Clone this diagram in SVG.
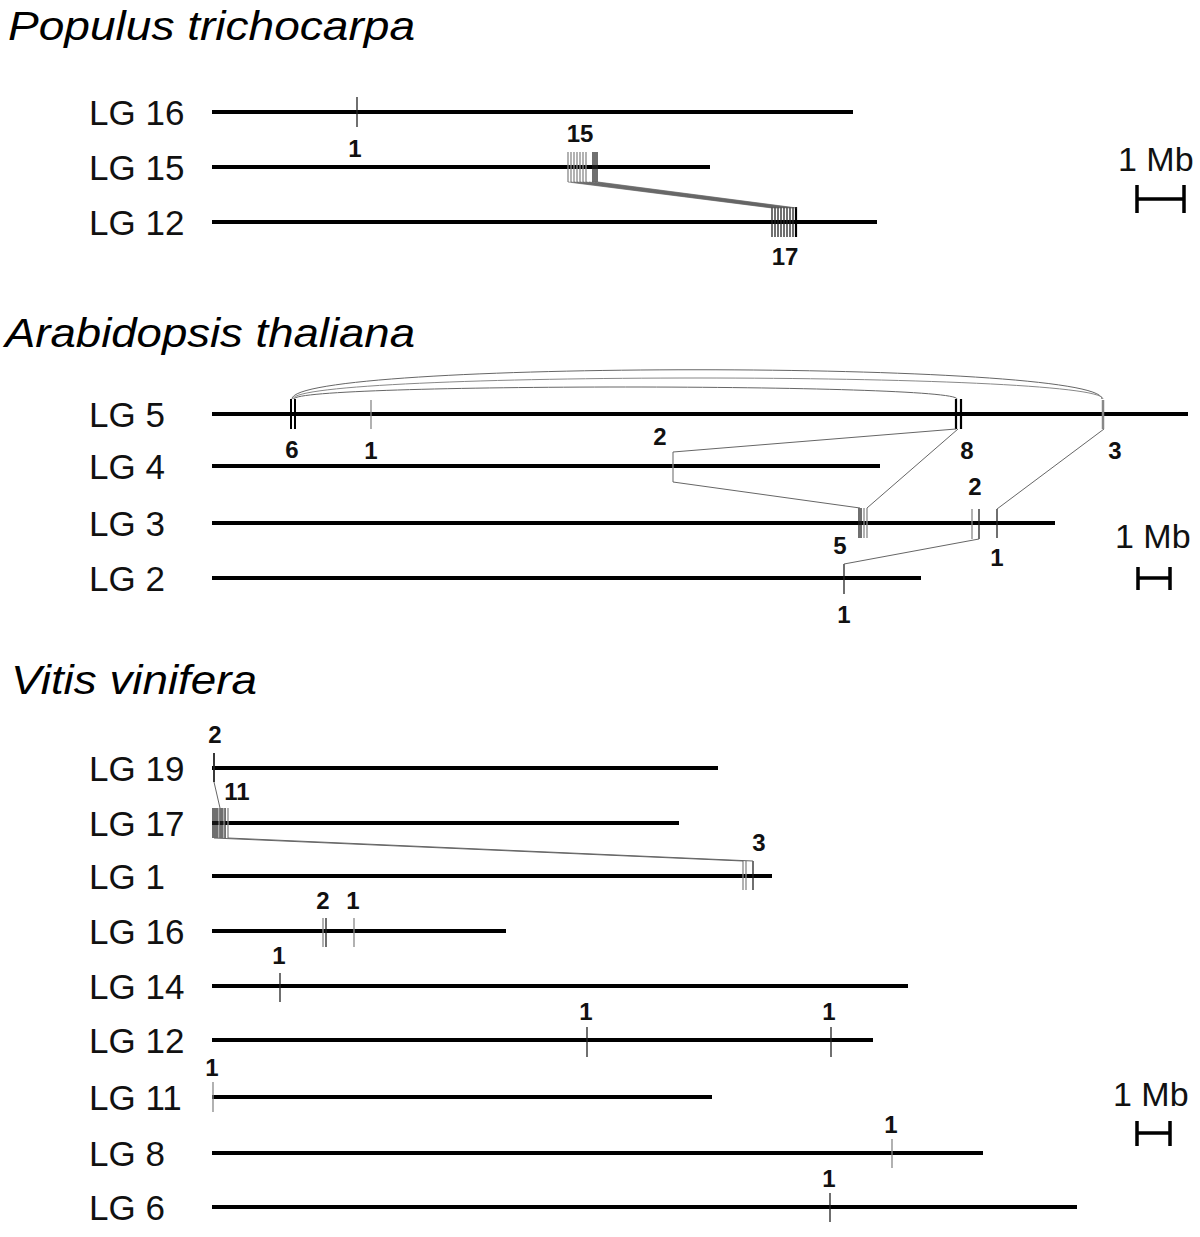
<svg xmlns="http://www.w3.org/2000/svg" width="1200" height="1237" viewBox="0 0 1200 1237">
<style>
.title{font-family:"Liberation Sans",Arial,sans-serif;font-style:italic;font-size:41px;fill:#000}
.lg{font-family:"Liberation Sans",Arial,sans-serif;font-size:35px;fill:#111}
.num{font-family:"Liberation Sans",Arial,sans-serif;font-weight:bold;font-size:24px;fill:#111;text-anchor:middle}
.mb{font-family:"Liberation Sans",Arial,sans-serif;font-size:34px;fill:#111}
.chr{stroke:#000;stroke-width:4;fill:none}
.tk{stroke:#222;stroke-width:1.3;fill:none}
.tg{stroke:#888;stroke-width:1.3;fill:none}
.con{stroke:#666;stroke-width:1;fill:none}
.sb{stroke:#000;stroke-width:3.5;fill:none}
</style>
<rect width="1200" height="1237" fill="#fff"/>

<!-- ===== Populus ===== -->
<g id="title-populus"><text class="title" x="8" y="40" textLength="407" lengthAdjust="spacingAndGlyphs">Populus trichocarpa</text></g>
<g id="pt-lg16">
 <text class="lg" x="89" y="125">LG 16</text>
 <line class="chr" x1="212" y1="112" x2="853" y2="112"/>
 <line class="tk" x1="357" y1="97" x2="357" y2="127"/>
 <text class="num" x="355" y="157">1</text>
</g>
<g id="pt-lg15">
 <text class="lg" x="89" y="180">LG 15</text>
 <line class="chr" x1="212" y1="167" x2="710" y2="167"/>
 <g class="tg"><line x1="568" y1="152" x2="568" y2="182"/><line x1="571" y1="152" x2="571" y2="182"/><line x1="574" y1="152" x2="574" y2="182"/><line x1="577" y1="152" x2="577" y2="182"/><line x1="580" y1="152" x2="580" y2="182"/><line x1="583" y1="152" x2="583" y2="182"/><line x1="586" y1="152" x2="586" y2="182"/></g>
 <g class="tk"><line x1="593" y1="152" x2="593" y2="182"/><line x1="595" y1="152" x2="595" y2="182"/><line x1="597" y1="152" x2="597" y2="182"/></g>
 <text class="num" x="580" y="142">15</text>
</g>
<g id="pt-lg12">
 <text class="lg" x="89" y="235">LG 12</text>
 <line class="chr" x1="212" y1="222" x2="877" y2="222"/>
 <g class="tk"><line x1="772" y1="207" x2="772" y2="237"/><line x1="775" y1="207" x2="775" y2="237"/><line x1="778" y1="207" x2="778" y2="237"/><line x1="781" y1="207" x2="781" y2="237"/><line x1="784" y1="207" x2="784" y2="237"/><line x1="787" y1="207" x2="787" y2="237"/><line x1="790" y1="207" x2="790" y2="237"/><line x1="793" y1="207" x2="793" y2="237"/></g>
 <line x1="796" y1="207" x2="796" y2="237" stroke="#000" stroke-width="2.2"/>
 <text class="num" x="785" y="265">17</text>
</g>
<g id="pt-scale">
 <text class="mb" x="1118" y="171">1 Mb</text>
 <path class="sb" d="M1137 185V213M1137 199H1184M1184 185V213"/>
</g>

<!-- ===== Arabidopsis ===== -->
<g id="title-arabidopsis"><text class="title" x="5" y="347" textLength="410" lengthAdjust="spacingAndGlyphs">Arabidopsis thaliana</text></g>
<g id="at-lg5">
 <text class="lg" x="89" y="427">LG 5</text>
 <line class="chr" x1="212" y1="414" x2="1188" y2="414"/>
 <path d="M291 399V429M295 399V429" stroke="#000" stroke-width="2"/>
 <line class="tg" x1="371" y1="400" x2="371" y2="429"/>
 <path d="M956 399V429M961 399V429" stroke="#000" stroke-width="2.2"/>
 <line x1="1103" y1="400" x2="1103" y2="429" stroke="#888" stroke-width="2.5"/>
 <text class="num" x="292" y="458">6</text>
 <text class="num" x="371" y="459">1</text>
 <text class="num" x="967" y="459">8</text>
 <text class="num" x="1115" y="459">3</text>
</g>
<g id="at-lg4">
 <text class="lg" x="89" y="479">LG 4</text>
 <line class="chr" x1="212" y1="466" x2="880" y2="466"/>
 <line class="tg" x1="673" y1="452" x2="673" y2="482"/>
 <text class="num" x="660" y="445">2</text>
</g>
<g id="at-lg3">
 <text class="lg" x="89" y="536">LG 3</text>
 <line class="chr" x1="212" y1="523" x2="1055" y2="523"/>
 <g class="tk"><line x1="859" y1="508" x2="859" y2="538"/><line x1="861" y1="508" x2="861" y2="538"/></g>
 <g class="tg"><line x1="864" y1="508" x2="864" y2="538"/><line x1="867" y1="508" x2="867" y2="538"/></g>
 <line class="tg" x1="972" y1="509" x2="972" y2="539"/>
 <line class="tk" x1="979" y1="509" x2="979" y2="539"/>
 <line class="tk" x1="997" y1="509" x2="997" y2="538"/>
 <text class="num" x="840" y="554">5</text>
 <text class="num" x="975" y="495">2</text>
 <text class="num" x="997" y="566">1</text>
</g>
<g id="at-lg2">
 <text class="lg" x="89" y="591">LG 2</text>
 <line class="chr" x1="212" y1="578" x2="921" y2="578"/>
 <line class="tk" x1="844" y1="564" x2="844" y2="594"/>
 <text class="num" x="844" y="623">1</text>
</g>
<g id="at-scale">
 <text class="mb" x="1115" y="548">1 Mb</text>
 <path class="sb" d="M1138 567V590M1138 578H1170M1170 567V590"/>
</g>

<!-- ===== Vitis ===== -->
<g id="title-vitis"><text class="title" x="11" y="694" textLength="246" lengthAdjust="spacingAndGlyphs">Vitis vinifera</text></g>
<g id="vv-lg19">
 <text class="lg" x="89" y="781">LG 19</text>
 <line class="chr" x1="212" y1="768" x2="718" y2="768"/>
 <line x1="214" y1="753" x2="214" y2="782" stroke="#222" stroke-width="1.8"/>
 <text class="num" x="215" y="743">2</text>
</g>
<g id="vv-lg17">
 <text class="lg" x="89" y="836">LG 17</text>
 <line class="chr" x1="212" y1="823" x2="679" y2="823"/>
 <g class="tk"><line x1="213" y1="808" x2="213" y2="838"/><line x1="215" y1="808" x2="215" y2="838"/><line x1="217" y1="808" x2="217" y2="838"/><line x1="220" y1="808" x2="220" y2="838"/><line x1="222" y1="808" x2="222" y2="838"/><line x1="225" y1="808" x2="225" y2="838"/></g>
 <g class="tg"><line x1="219" y1="808" x2="219" y2="838"/><line x1="224" y1="808" x2="224" y2="838"/><line x1="228" y1="808" x2="228" y2="838"/></g>
 <text class="num" x="237" y="800">11</text>
</g>
<g id="vv-lg1">
 <text class="lg" x="89" y="889">LG 1</text>
 <line class="chr" x1="212" y1="876" x2="772" y2="876"/>
 <g class="tg"><line x1="743" y1="861" x2="743" y2="890"/><line x1="746" y1="861" x2="746" y2="890"/></g>
 <line class="tk" x1="753" y1="861" x2="753" y2="890"/>
 <text class="num" x="759" y="851">3</text>
</g>
<g id="vv-lg16">
 <text class="lg" x="89" y="944">LG 16</text>
 <line class="chr" x1="212" y1="931" x2="506" y2="931"/>
 <g class="tg"><line x1="323" y1="918" x2="323" y2="947"/><line x1="354" y1="918" x2="354" y2="947"/></g>
 <line class="tk" x1="326" y1="918" x2="326" y2="947"/>
 <text class="num" x="323" y="909">2</text>
 <text class="num" x="353" y="909">1</text>
</g>
<g id="vv-lg14">
 <text class="lg" x="89" y="999">LG 14</text>
 <line class="chr" x1="212" y1="986" x2="908" y2="986"/>
 <line class="tk" x1="280" y1="973" x2="280" y2="1002"/>
 <text class="num" x="279" y="964">1</text>
</g>
<g id="vv-lg12">
 <text class="lg" x="89" y="1053">LG 12</text>
 <line class="chr" x1="212" y1="1040" x2="873" y2="1040"/>
 <line class="tk" x1="587" y1="1027" x2="587" y2="1057"/>
 <line class="tk" x1="831" y1="1027" x2="831" y2="1057"/>
 <text class="num" x="586" y="1020">1</text>
 <text class="num" x="829" y="1020">1</text>
</g>
<g id="vv-lg11">
 <text class="lg" x="89" y="1110">LG 11</text>
 <line class="chr" x1="212" y1="1097" x2="712" y2="1097"/>
 <line class="tg" x1="213" y1="1082" x2="213" y2="1112"/>
 <text class="num" x="212" y="1076">1</text>
</g>
<g id="vv-lg8">
 <text class="lg" x="89" y="1166">LG 8</text>
 <line class="chr" x1="212" y1="1153" x2="983" y2="1153"/>
 <line class="tg" x1="892" y1="1139" x2="892" y2="1168"/>
 <text class="num" x="891" y="1133">1</text>
</g>
<g id="vv-lg6">
 <text class="lg" x="89" y="1220">LG 6</text>
 <line class="chr" x1="212" y1="1207" x2="1077" y2="1207"/>
 <line class="tk" x1="830" y1="1193" x2="830" y2="1222"/>
 <text class="num" x="829" y="1187">1</text>
</g>
<g id="vv-scale">
 <text class="mb" x="1113" y="1106">1 Mb</text>
 <path class="sb" d="M1137 1121V1146M1137 1133H1170M1170 1121V1146"/>
</g>

<!-- ===== connectors ===== -->
<g id="connectors" class="con">
 <!-- Populus LG15 -> LG12 band -->
 <path d="M568 182L772 208M571 182L774.5 208M574 182L777 208M577 182L779.5 208M580 182L782 208M583 182L784.5 208M586 182L787 208M589 182L789.5 208M592 182L792 208M595 182L794.5 208M598 182L797 208" stroke="#555" stroke-width="0.6"/>
 <!-- Arabidopsis arcs -->
 <path d="M292 399C292 360 1102 360 1102 399"/>
 <path d="M293 399C293 371 1103 371 1103 399" stroke="#888"/>
 <path d="M294 399C294 383 957 383 957 399"/>
 <!-- Arabidopsis straight links -->
 <path d="M956 429L673 452"/>
 <path d="M673 482L860 508"/>
 <path d="M958 429L867 508"/>
 <path d="M1104 429L997 509"/>
 <path d="M979 539L844 564"/>
 <!-- Vitis links -->
 <path d="M214 782L220 808"/>
 <path d="M214 838L743 861M228 838L753 861"/>
</g>
</svg>
